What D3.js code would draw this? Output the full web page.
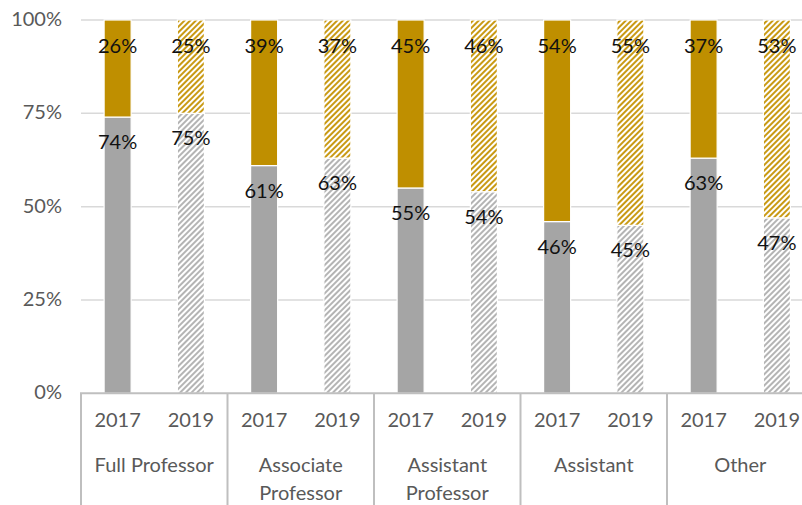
<!DOCTYPE html>
<html>
<head>
<meta charset="utf-8">
<script src="https://cdn.jsdelivr.net/npm/d3@7"></script>
<style>
  html, body { margin: 0; padding: 0; background: #fff; }
  svg { display: block; font-family: Lato, "Open Sans", sans-serif; }
</style>
</head>
<body>
<div id="chart"></div>
<script>
// Categories and years
const categories = [["Full Professor"], ["Associate", "Professor"], ["Assistant", "Professor"], ["Assistant"], ["Other"]];
const categoryKeys = ["Full Professor", "Associate Professor", "Assistant Professor", "Assistant", "Other"];
const years = ["2017", "2019"];

// Share of the lower (grey) segment, per category, for 2017 and 2019
const lower2017 = [74, 61, 55, 46, 63];
const lower2019 = [75, 63, 54, 45, 47];
// Share of the upper (gold) segment
const upper2017 = [26, 39, 45, 54, 37];
const upper2019 = [25, 37, 46, 55, 53];

const yTicks = [0, 25, 50, 75, 100];

const W = 802, H = 505;
const svg = d3.select("#chart").append("svg").attr("width", W).attr("height", H);

const defs = svg.append("defs");
function hatch(id, color) {
  const p = defs.append("pattern")
    .attr("id", id).attr("patternUnits", "userSpaceOnUse")
    .attr("width", 4).attr("height", 4)
    .attr("patternTransform", "rotate(45)");
  p.append("rect").attr("width", 4).attr("height", 4).attr("fill", "#fff");
  p.append("rect").attr("x", 0).attr("width", 2).attr("height", 4).attr("fill", color);
}
hatch("hatchGold", "#c99a14");
hatch("hatchGrey", "#b4b4b4");

const GOLD = "#BF8F00", GREY = "#A5A5A5";

const y = d3.scaleLinear().domain([0, 100]).range([393.3, 20]);
const x = d3.scaleBand().domain(categoryKeys).range([81, 81 + 146.5 * 5]).padding(0);
const xi = d3.scaleBand().domain(years).range([0, x.bandwidth()]).paddingInner(0.631).paddingOuter(0.3155);

// Horizontal gridlines
svg.append("g").selectAll("line").data(yTicks.filter(d => d > 0)).join("line")
  .attr("x1", 81).attr("x2", W)
  .attr("y1", d => y(d)).attr("y2", d => y(d))
  .attr("stroke", "#d9d9d9").attr("stroke-width", 1.5);

// Y tick labels
svg.append("g").selectAll("text").data(yTicks).join("text")
  .attr("x", 62).attr("y", d => y(d) + 1)
  .attr("text-anchor", "end").attr("dominant-baseline", "middle")
  .attr("fill", "#595959").attr("font-size", 20)
  .text(d => d + "%");

// Stacked bars
const rows = [];
categoryKeys.forEach((c, i) => {
  rows.push({ cat: c, year: "2017", lower: lower2017[i], upper: upper2017[i], hatched: false });
  rows.push({ cat: c, year: "2019", lower: lower2019[i], upper: upper2019[i], hatched: true });
});

const bars = svg.append("g");
rows.forEach(r => {
  const bx = x(r.cat) + xi(r.year);
  const bw = xi.bandwidth();
  bars.append("rect")
    .attr("x", bx).attr("width", bw)
    .attr("y", y(r.lower)).attr("height", y(0) - y(r.lower))
    .attr("fill", r.hatched ? "url(#hatchGrey)" : GREY)
    .attr("stroke", "#fff").attr("stroke-width", 1.2);
  bars.append("rect")
    .attr("x", bx).attr("width", bw)
    .attr("y", y(r.lower + r.upper)).attr("height", y(r.lower) - y(r.lower + r.upper))
    .attr("fill", r.hatched ? "url(#hatchGold)" : GOLD)
    .attr("stroke", "#fff").attr("stroke-width", 1.2);
});

// Value labels near the top of each segment
const labels = svg.append("g").attr("font-size", 20).attr("fill", "#111")
  .attr("text-anchor", "middle").attr("dominant-baseline", "middle");
rows.forEach(r => {
  const cx = x(r.cat) + xi(r.year) + xi.bandwidth() / 2;
  labels.append("text").attr("x", cx).attr("y", y(r.lower + r.upper) + 28).text(r.upper + "%");
  labels.append("text").attr("x", cx).attr("y", y(r.lower) + 27).text(r.lower + "%");
});

// Category axis: baseline and group separators
svg.append("line").attr("x1", 80).attr("x2", W).attr("y1", y(0)).attr("y2", y(0))
  .attr("stroke", "#bfbfbf").attr("stroke-width", 2);
svg.append("g").selectAll("line").data(categoryKeys).join("line")
  .attr("x1", d => x(d)).attr("x2", d => x(d))
  .attr("y1", y(0)).attr("y2", H)
  .attr("stroke", "#bfbfbf").attr("stroke-width", 2);

// Year labels
const axisText = svg.append("g").attr("fill", "#595959").attr("font-size", 20)
  .attr("text-anchor", "middle").attr("dominant-baseline", "middle");
categoryKeys.forEach(c => {
  years.forEach(yr => {
    axisText.append("text").attr("x", x(c) + xi(yr) + xi.bandwidth() / 2).attr("y", 422).text(yr);
  });
});

// Category labels
categoryKeys.forEach((c, i) => {
  categories[i].forEach((line, j) => {
    axisText.append("text").attr("x", x(c) + x.bandwidth() / 2).attr("y", 467 + j * 28).text(line);
  });
});
</script>
</body>
</html>
